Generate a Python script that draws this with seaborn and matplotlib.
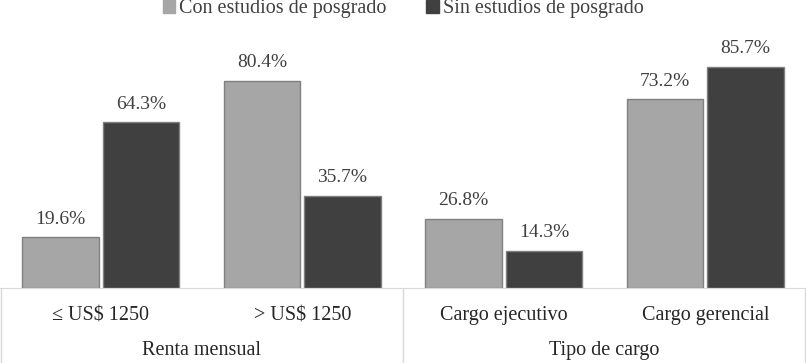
import pandas as pd
import matplotlib.pyplot as plt
import seaborn as sns
from matplotlib.lines import Line2D

# Datos del gráfico
categorias = ['≤ US$ 1250', '> US$ 1250', 'Cargo ejecutivo', 'Cargo gerencial']
grupos = ['Renta mensual', 'Tipo de cargo']
series = ['Con estudios de posgrado', 'Sin estudios de posgrado']
con_posgrado = [19.6, 80.4, 26.8, 73.2]
sin_posgrado = [64.3, 35.7, 14.3, 85.7]

df = pd.DataFrame({
    'categoria': categorias * 2,
    'serie': [series[0]] * 4 + [series[1]] * 4,
    'valor': con_posgrado + sin_posgrado,
})

sns.set_style('white')
plt.rcParams['font.family'] = ['Liberation Serif', 'DejaVu Serif']

fig = plt.figure(figsize=(8.06, 3.63), dpi=100)
ax = fig.add_axes([0.0, 75 / 363, 1.0, 232 / 363])

sns.barplot(data=df, x='categoria', y='valor', hue='serie', order=categorias,
            palette=['#a6a6a6', '#404040'], width=0.8, gap=0.05,
            edgecolor='#808080', linewidth=1, ax=ax, legend=False)

for cont in ax.containers:
    ax.bar_label(cont, labels=[f'{v:.1f}%' for v in cont.datavalues],
                 padding=7, fontsize=14, color='#404040')

ax.set_xlim(-0.5, 3.5)
ax.set_ylim(0, 90)
ax.set_yticks([])
ax.set_xlabel('')
ax.set_ylabel('')
for s in ['top', 'left', 'right']:
    ax.spines[s].set_visible(False)
ax.spines['bottom'].set_color('#d9d9d9')
ax.tick_params(axis='x', length=0, pad=13, labelsize=14.5, labelcolor='#262626')

# líneas de la tabla inferior
for xf in [0.001, 0.5, 0.999]:
    ax.add_line(Line2D([xf, xf], [0, -0.33], transform=ax.transAxes,
                       color='#d9d9d9', lw=1, clip_on=False))

for i, g in enumerate(grupos):
    ax.text(0.25 + 0.5 * i, -0.27, g, transform=ax.transAxes, ha='center',
            va='center', fontsize=14.5, color='#262626')

# leyenda
handles = [plt.Rectangle((0, 0), 1, 1, color=c) for c in ['#a6a6a6', '#404040']]
fig.legend(handles, series, loc='center', bbox_to_anchor=(0.5, 1 - 9 / 363),
           ncol=2, frameon=False, fontsize=14.5, handlelength=0.6, handleheight=0.6,
           handletextpad=0.2, columnspacing=2.0, labelcolor='#404040')

fig.savefig('out.png', dpi=100)
